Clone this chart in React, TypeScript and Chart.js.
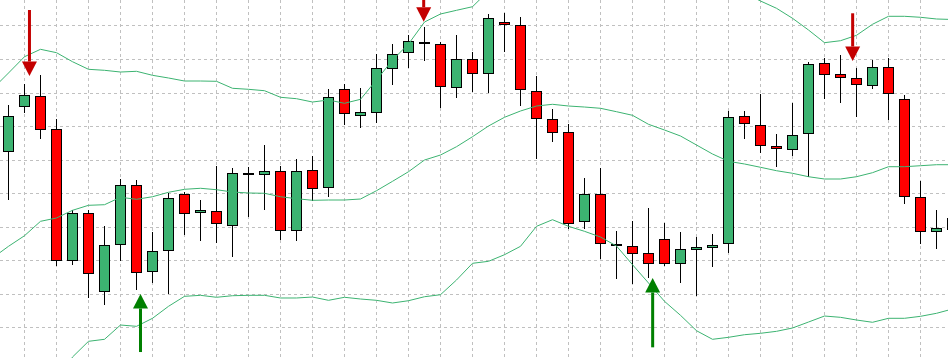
import React, { useEffect, useRef } from "react";
import { Chart, registerables } from "chart.js";

Chart.register(...registerables);

// ---- candle data (index, open, high, low, close) ----
const candleIndex = [
  0, 1, 2, 3, 4, 5, 6, 7, 8, 9, 10, 11, 12, 13, 14, 15, 16, 17, 18, 19,
  20, 21, 22, 23, 24, 25, 26, 27, 28, 29, 30, 31, 32, 33, 34, 35, 36, 37, 38, 39,
  40, 41, 42, 43, 44, 45, 46, 47, 48, 49, 50, 51, 52, 53, 54, 55, 56, 57, 58, 59,
];

const opens = [
  152.44, 165.85, 169.13, 159.3, 119.96, 134.27, 110.72, 124.73, 142.61, 116.68,
  122.94, 139.93, 134.27, 134.86, 130.39, 146.19, 145.59, 146.78, 128.9, 147.08,
  141.72, 171.22, 163.17, 164.07, 177.18, 181.95, 185.22, 184.63, 171.52, 180.16,
  175.69, 191.18, 190.29, 170.62, 162.28, 158.4, 131.58, 139.93, 125.03, 124.43,
  122.35, 126.52, 119.07, 123.24, 123.84, 125.03, 163.17, 160.49, 154.23, 153.04,
  157.81, 178.97, 175.69, 174.5, 172.11, 177.77, 168.24, 139.03, 128.6, 129.2,
];

const highs = [
  166.45, 172.71, 175.39, 162.28, 135.16, 135.16, 130.39, 144.4, 144.1, 128.6,
  140.23, 140.52, 138.14, 148.27, 147.68, 147.97, 154.53, 148.27, 150.36, 151.25,
  171.22, 172.71, 171.52, 181.65, 184.63, 187.31, 189.69, 185.22, 187.31, 182.24,
  193.57, 193.87, 192.67, 175.09, 165.26, 160.79, 144.7, 147.68, 128.9, 131.88,
  135.76, 131.29, 128.6, 127.11, 128.01, 164.66, 164.66, 169.73, 157.81, 167.05,
  179.26, 180.46, 181.35, 177.48, 179.86, 180.46, 169.43, 143.8, 135.16, 133.97,
];

const lows = [
  138.14, 164.07, 156.32, 118.47, 118.77, 108.94, 106.85, 119.96, 111.32, 113.41,
  110.13, 127.71, 125.92, 125.33, 121.15, 133.07, 135.16, 126.22, 125.92, 137.84,
  139.03, 160.49, 159.6, 161.09, 172.41, 177.48, 179.56, 165.56, 168.54, 170.32,
  170.03, 182.24, 166.15, 150.36, 155.42, 129.5, 129.5, 120.56, 114.6, 113.11,
  114.9, 118.47, 113.41, 109.53, 118.17, 122.35, 156.32, 152.15, 147.97, 151.25,
  144.99, 168.24, 167.05, 162.87, 171.22, 161.98, 136.95, 125.03, 123.54, 128.01,
];

const closes = [
  163.17, 169.43, 159.0, 119.96, 134.27, 116.09, 124.73, 142.61, 116.39, 122.94,
  138.74, 133.97, 135.16, 130.99, 146.19, 145.59, 146.78, 128.9, 146.78, 141.42,
  168.83, 163.77, 164.36, 177.48, 181.65, 185.52, 184.63, 171.81, 180.16, 175.69,
  192.38, 190.29, 170.92, 162.28, 158.11, 130.99, 139.93, 125.03, 124.43, 122.05,
  119.07, 119.07, 123.54, 124.13, 124.73, 162.87, 160.79, 154.23, 153.34, 157.51,
  178.67, 175.39, 174.5, 172.41, 177.77, 169.73, 139.03, 128.6, 129.8, 132.78,
];

// ---- Bollinger bands ----
const bandIndex = [
  -1, 0, 1, 2, 3, 4, 5, 6, 7, 8, 9, 10, 11, 12, 13, 14, 15, 16, 17, 18, 19,
  20, 21, 22, 23, 24, 25, 26, 27, 28, 29, 30, 31, 32, 33, 34, 35, 36, 37, 38, 39,
  40, 41, 42, 43, 44, 45, 46, 47, 48, 49, 50, 51, 52, 53, 54, 55, 56, 57, 58, 59,
];

const upperBand = [
  171.22, 175.99, 180.84, 183.05, 182.04, 179.35, 177.09, 176.79, 176.28, 176.49, 175.3,
  174.5, 173.6, 173.6, 173.51, 171.43, 171.13, 170.71, 168.75, 168.33, 167.34,
  167.94, 166.96, 168.15, 173.9, 179.86, 184.63, 191.18, 193.57, 194.67, 195.74,
  200.42, 203.7, 204.89, 201.91, 201.02, 201.91, 202.81, 203.7, 204.59, 207.87,
  207.87, 209.96, 210.55, 209.96, 206.98, 202.21, 199.83, 197.44, 195.27, 192.29,
  188.8, 185.02, 185.61, 187.22, 190.5, 192.88, 192.88, 192.59, 192.08, 191.93,
];

const middleBand = [
  120.86, 124.34, 127.5, 131.79, 132.78, 135.07, 136.56, 136.74, 138.95, 138.35, 139.12,
  140.44, 141.33, 141.63, 141.21, 140.52, 140.23, 140.14, 139.12, 138.53, 138.05,
  138.14, 138.14, 138.44, 140.91, 143.71, 146.57, 150.06, 151.55, 154.02, 157.0,
  160.19, 162.79, 164.66, 166.15, 166.66, 166.15, 165.85, 165.47, 164.45, 163.38,
  160.7, 159.0, 157.21, 154.53, 151.85, 149.67, 148.87, 147.89, 146.87, 146.1,
  145.08, 144.4, 144.4, 145.08, 146.28, 148.06, 148.06, 148.36, 148.66, 148.66,
];

const lowerBand = [
  69.6, 72.88, 74.07, 80.63, 83.61, 91.35, 96.03, 96.63, 100.89, 100.5, 102.89,
  106.46, 109.44, 109.74, 109.15, 109.62, 109.74, 109.74, 108.94, 108.94, 109.23,
  108.25, 109.15, 108.64, 108.25, 107.45, 108.13, 109.32, 109.92, 114.3, 119.28,
  119.87, 121.84, 124.34, 130.3, 132.27, 130.3, 128.81, 127.11, 124.43, 118.86,
  113.41, 107.95, 103.78, 99.19, 96.63, 97.22, 98.0, 98.42, 99.01, 100.0,
  101.78, 103.57, 103.18, 102.38, 101.7, 102.89, 102.89, 103.48, 104.38, 105.66,
];

// ---- grid ticks ----
const gridXTicks = [
  1, 3, 5, 7, 9, 11, 13, 15, 17, 19, 21, 23, 25, 27, 29, 31, 33, 35, 37, 39,
  41, 43, 45, 47, 49, 51, 53, 55, 57,
];
const gridYTicks = [100, 110, 120, 130, 140, 150, 160, 170, 180, 190];

// ---- signal arrows ----
const arrowX = [1.31, 25.95, 52.76, 8.25, 40.26];
const arrowTip = [175.09, 191.27, 179.56, 110.13, 114.9];
const arrowTail = [194.76, 200.72, 193.78, 92.84, 94.24];
const arrowSignal = ["sell", "sell", "sell", "buy", "buy"];

const GREEN = "#3cb371";
const RED = "#ff0000";
const BAND = "#3cb371";
const GRID = "#c0c0c0";
const SELL = "#c40000";
const BUY = "#008000";

const arrowPlugin = {
  id: "signalArrows",
  afterDatasetsDraw(chart: any) {
    const { ctx } = chart;
    const xs = chart.scales.x;
    const ys = chart.scales.y;
    ctx.save();
    for (let k = 0; k < arrowX.length; k++) {
      const px = xs.getPixelForValue(arrowX[k]);
      const tip = ys.getPixelForValue(arrowTip[k]);
      const tail = ys.getPixelForValue(arrowTail[k]);
      const dir = tail < tip ? 1 : -1;
      const head = 14.5;
      const base = tip - dir * head;
      ctx.fillStyle = arrowSignal[k] === "sell" ? SELL : BUY;
      ctx.fillRect(px - 1.5, Math.min(tail, base), 3, Math.abs(base - tail));
      ctx.beginPath();
      ctx.moveTo(px - 7.5, base);
      ctx.lineTo(px + 7.5, base);
      ctx.lineTo(px, tip);
      ctx.closePath();
      ctx.fill();
    }
    ctx.restore();
  },
};

function bandDataset(label: string, values: number[]) {
  return {
    type: "line" as const,
    label,
    data: bandIndex.map((v, i) => ({ x: v, y: values[i] })),
    borderColor: BAND,
    borderWidth: 1,
    pointRadius: 0,
    tension: 0,
    fill: false,
    order: 0,
  };
}

export default function App() {
  const ref = useRef<HTMLCanvasElement | null>(null);

  useEffect(() => {
    document.body.style.margin = "0";
    const canvas = ref.current;
    if (!canvas) return;

    const gridCommon = {
      color: GRID,
      lineWidth: 1,
      drawTicks: false,
      offset: false,
    };

    const chart = new Chart(canvas, {
      type: "bar",
      data: {
        datasets: [
          bandDataset("Upper", upperBand),
          bandDataset("Middle", middleBand),
          bandDataset("Lower", lowerBand),
          {
            type: "bar",
            label: "Body",
            data: candleIndex.map((v, i) => ({ x: v, y: [opens[i], closes[i]] })),
            backgroundColor: candleIndex.map((_, i) => (closes[i] >= opens[i] ? GREEN : RED)),
            borderColor: "#000000",
            borderWidth: 1,
            borderSkipped: false,
            barThickness: 11,
            grouped: false,
            inflateAmount: 0,
            order: 1,
          } as any,
          {
            type: "bar",
            label: "Wick",
            data: candleIndex.map((v, i) => ({ x: v, y: [lows[i], highs[i]] })),
            backgroundColor: "#000000",
            borderWidth: 0,
            borderSkipped: false,
            barThickness: 1,
            grouped: false,
            inflateAmount: 0,
            order: 2,
          } as any,
        ],
      },
      options: {
        animation: false,
        responsive: false,
        events: [],
        layout: { padding: 0, autoPadding: false },
        plugins: {
          legend: { display: false },
          tooltip: { enabled: false },
          title: { display: false },
        },
        scales: {
          x: {
            type: "linear",
            min: -0.53125,
            max: 58.71875,
            bounds: "data",
            offset: false,
            grid: gridCommon,
            border: { display: false, dash: [3, 3] },
            ticks: { display: false },
            afterBuildTicks: (s: any) => {
              s.ticks = gridXTicks.map((v) => ({ value: v }));
            },
          },
          y: {
            type: "linear",
            min: 91.06,
            max: 197.74,
            bounds: "data",
            grid: gridCommon,
            border: { display: false, dash: [3, 3] },
            ticks: { display: false },
            afterBuildTicks: (s: any) => {
              s.ticks = gridYTicks.map((v) => ({ value: v }));
            },
          },
        },
      } as any,
      plugins: [arrowPlugin],
    });

    return () => chart.destroy();
  }, []);

  return (
    <div style={{ position: "absolute", left: 0, top: 0, width: 948, height: 358, background: "#ffffff" }}>
      <canvas ref={ref} width={948} height={358} style={{ display: "block", width: 948, height: 358 }} />
    </div>
  );
}
